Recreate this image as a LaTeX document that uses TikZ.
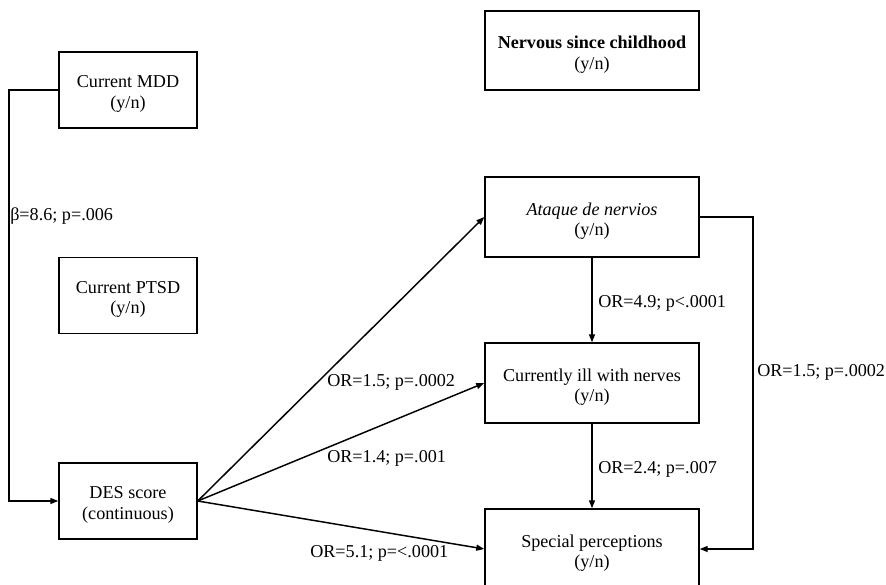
\documentclass[tikz,border=0pt]{standalone}
\usepackage{fontspec}
\setmainfont{Liberation Serif}
\usetikzlibrary{arrows.meta}
\begin{document}
\begin{tikzpicture}[x=0.75pt,y=-0.75pt,
  font=\fontsize{13.6}{15.5}\selectfont,
  box/.style={draw,line width=1.1pt,rectangle,inner sep=0pt},
  txt/.style={align=center,inner sep=0pt,yshift=-3pt},
  smallbox/.style={box,minimum width=103.5pt,minimum height=57pt},
  bigbox/.style={box,minimum width=160.5pt,minimum height=60pt},
  conn/.style={line width=1.1pt,-{Triangle[length=6pt,width=4.5pt]}},
  lbl/.style={inner sep=0pt,anchor=west}]
\useasboundingbox (0,0) rectangle (886,585);
\node[smallbox,label={[txt]center:{Current MDD\\(y/n)}}] (mdd) at (128,90) {};
\node[smallbox,label={[txt]center:{Current PTSD\\(y/n)}}] (ptsd) at (128,295.5) {};
\node[smallbox,label={[txt]center:{DES score\\(continuous)}}] (des) at (128,501) {};
\node[bigbox,minimum height=59pt,label={[txt]center:{\textbf{Nervous since childhood}\\(y/n)}}] (nerv) at (592,50.5) {};
\node[bigbox,label={[txt]center:{\textit{Ataque de nervios}\\(y/n)}}] (ataq) at (592,217) {};
\node[bigbox,label={[txt]center:{Currently ill with nerves\\(y/n)}}] (ill) at (592,383) {};
\node[bigbox,label={[txt]center:{Special perceptions\\(y/n)}}] (spec) at (592,549) {};
\coordinate (c1) at (9,90);
\coordinate (c2) at (9,501);
\coordinate (c3) at (753,217);
\coordinate (c4) at (753,549);
\draw[conn] (mdd.west) -- (c1) -- (c2) -- (des.west);
\draw[conn] (des.east) -- (ataq.west);
\draw[conn] (des.east) -- (ill.west);
\draw[conn] (des.east) -- (spec.west);
\draw[conn] (ataq.south) -- (ill.north);
\draw[conn] (ill.south) -- (spec.north);
\draw[conn] (ataq.east) -- (c3) -- (c4) -- (spec.east);
\node[lbl] (l1) at (10,216) {β=8.6; p=.006};
\node[lbl] (l2) at (327,382) {OR=1.5; p=.0002};
\node[lbl] (l3) at (327,458) {OR=1.4; p=.001};
\node[lbl] (l4) at (310,553) {OR=5.1; p=<.0001};
\node[lbl] (l5) at (598,303) {OR=4.9; p<.0001};
\node[lbl] (l6) at (598,469) {OR=2.4; p=.007};
\node[lbl] (l7) at (757,372) {OR=1.5; p=.0002};
\end{tikzpicture}
\end{document}
